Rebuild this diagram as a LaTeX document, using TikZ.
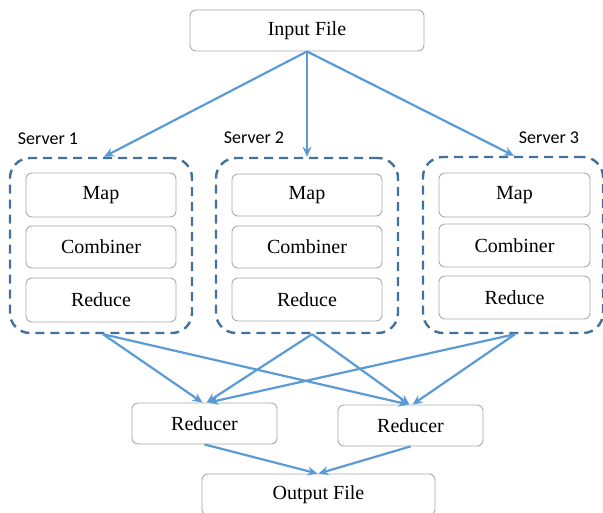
\documentclass[tikz,border=0pt]{standalone}
\usepackage{fontspec}
\setmainfont{Liberation Serif}
\newfontfamily\labelfont{Carlito}
\usetikzlibrary{arrows.meta}
\definecolor{flowblue}{HTML}{5B9BD5}
\definecolor{groupblue}{HTML}{41719C}
\definecolor{boxgray}{HTML}{ABABAB}
\tikzset{
  box/.style={draw=boxgray, line width=0.9pt, rounded corners=6pt, fill=white,
    font=\fontsize{20}{23}\selectfont, inner sep=0pt},
  group/.style={draw=groupblue, line width=2.4pt, dash pattern=on 9pt off 6pt,
    rounded corners=20pt, inner sep=0pt},
  servername/.style={font=\labelfont\fontsize{18}{21}\selectfont, inner sep=0pt},
  flow/.style={draw=flowblue, line width=2.2pt, -{Stealth[length=10pt,width=9pt]}},
}
\begin{document}
\begin{tikzpicture}[x=1pt,y=-1pt]
\useasboundingbox (0,0) rectangle (603,513);

% input
\node[box, minimum width=234pt, minimum height=41pt] (in) at (307,30.5) {Input File};

% server groups
\node[group, minimum width=182pt, minimum height=175pt] (s1) at (101,245.5) {};
\node[group, minimum width=182pt, minimum height=175pt] (s2) at (307,245.5) {};
\node[group, minimum width=180pt, minimum height=176pt] (s3) at (513,245) {};

\node[servername] (l1) at (48,139) {Server 1};
\node[servername] (l2) at (254,138) {Server 2};
\node[servername] (l3) at (549,138) {Server 3};

% stages inside each server
\node[box, minimum width=150pt, minimum height=44pt] (m1) at (101,195) {Map};
\node[box, minimum width=150pt, minimum height=42pt] (c1) at (101,247) {Combiner};
\node[box, minimum width=150pt, minimum height=44pt] (d1) at (101,300) {Reduce};

\node[box, minimum width=150pt, minimum height=42pt] (m2) at (307,195) {Map};
\node[box, minimum width=150pt, minimum height=42pt] (c2) at (307,247) {Combiner};
\node[box, minimum width=150pt, minimum height=43pt] (d2) at (307,299.5) {Reduce};

\node[box, minimum width=151pt, minimum height=44pt] (m3) at (514.5,195) {Map};
\node[box, minimum width=151pt, minimum height=43pt] (c3) at (514.5,245.5) {Combiner};
\node[box, minimum width=151pt, minimum height=43pt] (d3) at (514.5,297.5) {Reduce};

% reducers and output
\node[box, minimum width=145pt, minimum height=41pt] (r1) at (204.5,423.5) {Reducer};
\node[box, minimum width=145pt, minimum height=41pt] (r2) at (410.5,425.5) {Reducer};
\node[box, minimum width=233pt, minimum height=41pt] (out) at (318.5,494.5) {Output File};

% connectors
\draw[flow] (in.south) -- ([xshift=3pt]s1.north);
\draw[flow] (in.south) -- (s2.north);
\draw[flow] (in.south) -- ([xshift=1pt]s3.north);

\draw[flow] ([xshift=2pt]s1.south) -- ([xshift=-2pt]r1.north);
\draw[flow] ([xshift=2pt]s1.south) -- ([xshift=-2pt]r2.north);
\draw[flow] ([xshift=5pt]s2.south) -- ([xshift=2pt]r1.north);
\draw[flow] ([xshift=5pt]s2.south) -- ([xshift=-1pt]r2.north);
\draw[flow] ([xshift=2pt]s3.south) -- ([xshift=4pt]r1.north);
\draw[flow] ([xshift=2pt]s3.south) -- ([xshift=2pt]r2.north);

\draw[flow] (r1.south) -- ([xshift=-1pt]out.north);
\draw[flow] (r2.south) -- (out.north);
\end{tikzpicture}
\end{document}
